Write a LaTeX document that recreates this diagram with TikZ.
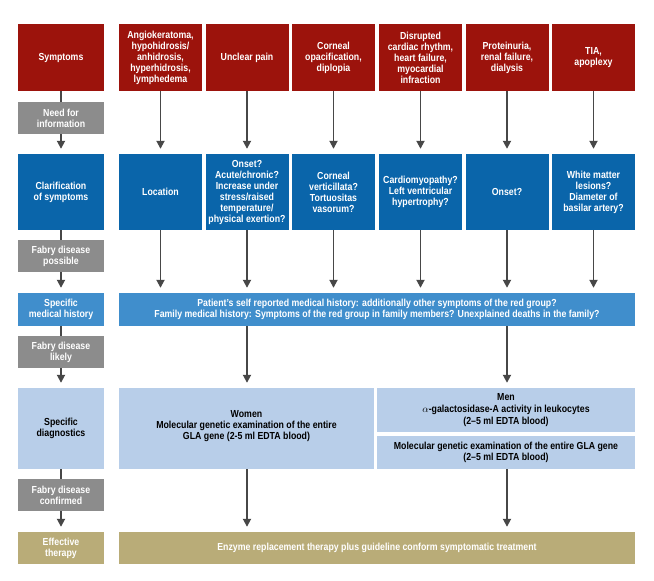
\documentclass[tikz,border=0pt]{standalone}
\usepackage{fontspec}
\setmainfont{Liberation Sans}[FakeStretch=0.86]
\usetikzlibrary{arrows.meta}
\definecolor{cred}{HTML}{9C130C}
\definecolor{cblue}{HTML}{0A65AA}
\definecolor{chist}{HTML}{408ECC}
\definecolor{clight}{HTML}{B8CEE9}
\definecolor{cgray}{HTML}{8C8C8C}
\definecolor{ckhaki}{HTML}{B9AC78}
\definecolor{carrow}{HTML}{474747}
\begin{document}
\begin{tikzpicture}[x=1pt,y=-1pt,
  box/.style={rectangle, inner sep=1pt, align=center, font=\fontsize{10.2}{11}\selectfont\bfseries, text=white},
  redbox/.style={box, fill=cred, minimum width=83pt, minimum height=67pt},
  bluebox/.style={box, fill=cblue, minimum width=83pt, minimum height=76pt},
  graybox/.style={box, fill=cgray, minimum width=86pt, minimum height=32pt},
  histbox/.style={box, fill=chist, minimum height=33pt},
  lightbox/.style={box, fill=clight, text=black},
  khakibox/.style={box, fill=ckhaki, minimum height=32pt},
  arr/.style={draw=carrow, line width=1.8pt, -{Triangle[width=8pt,length=8pt]}, shorten >=5pt},
  lin/.style={draw=carrow, line width=1.8pt}
]
\useasboundingbox (0,0) rectangle (654,581);
% left column
\node[redbox, minimum width=86pt] (sym) at (61,57.5) {Symptoms};
\node[graybox] (need) at (61,118) {Need for\\information};
\node[bluebox, minimum width=86pt] (clar) at (61,192) {Clarification\\of symptoms};
\node[graybox] (poss) at (61,256) {Fabry disease\\possible};
\node[histbox, minimum width=86pt] (hist) at (61,309.5) {Specific\\medical history};
\node[graybox] (likely) at (61,352) {Fabry disease\\likely};
\node[lightbox, minimum width=86pt, minimum height=81pt] (diag) at (61,428.5) {Specific\\diagnostics};
\node[graybox] (conf) at (61,495) {Fabry disease\\confirmed};
\node[khakibox, minimum width=86pt] (ther) at (61,548) {Effective\\therapy};
% red row
\node[redbox] (r1) at (160.5,57.5) {Angiokeratoma,\\hypohidrosis/\\anhidrosis,\\hyperhidrosis,\\lymphedema};
\node[redbox] (r2) at (247,57.5) {Unclear pain};
\node[redbox] (r3) at (333.5,57.5) {Corneal\\opacification,\\diplopia};
\node[redbox] (r4) at (420.5,57.5) {Disrupted\\cardiac rhythm,\\heart failure,\\myocardial\\infraction};
\node[redbox] (r5) at (507,57.5) {Proteinuria,\\renal failure,\\dialysis};
\node[redbox] (r6) at (593.5,57.5) {TIA,\\apoplexy};
% blue row
\node[bluebox] (b1) at (160.5,192) {Location};
\node[bluebox] (b2) at (247,192) {Onset?\\Acute/chronic?\\Increase under\\stress/raised\\temperature/\\physical exertion?};
\node[bluebox] (b3) at (333.5,192) {Corneal\\verticillata?\\Tortuositas\\vasorum?};
\node[bluebox] (b4) at (420.5,192) {Cardiomyopathy?\\Left ventricular\\hypertrophy?};
\node[bluebox] (b5) at (507,192) {Onset?};
\node[bluebox] (b6) at (593.5,192) {White matter\\lesions?\\Diameter of\\basilar artery?};
% wide boxes
\node[histbox, minimum width=516pt] (hw) at (377,309.5) {Patient's self reported medical history: additionally other symptoms of the red group?\\Family medical history: Symptoms of the red group in family members? Unexplained deaths in the family?};
\node[lightbox, minimum width=255pt, minimum height=81pt] (women) at (246.5,428.5) {Women\\Molecular genetic examination of the entire\\GLA gene (2-5 ml EDTA blood)\\[-3pt]};
\node[lightbox, minimum width=258pt, minimum height=44pt, font=\fontsize{10.2}{11.8}\selectfont\bfseries] (men) at (506,410) {Men\\$\alpha$-galactosidase-A activity in leukocytes\\(2–5 ml EDTA blood)};
\node[lightbox, minimum width=258pt, minimum height=33pt] (mol) at (506,452.5) {Molecular genetic examination of the entire GLA gene\\(2–5 ml EDTA blood)};
\node[khakibox, minimum width=516pt] (tw) at (377,548) {Enzyme replacement therapy plus guideline conform symptomatic treatment};
% left column connectors
\draw[lin] (sym.south) -- (need.north);
\draw[arr] (need.south) -- (clar.north);
\draw[lin] (clar.south) -- (poss.north);
\draw[arr] (poss.south) -- (hist.north);
\draw[lin] (hist.south) -- (likely.north);
\draw[arr] (likely.south) -- (diag.north);
\draw[lin] (diag.south) -- (conf.north);
\draw[arr] (conf.south) -- (ther.north);
% columns
\foreach \i in {1,...,6} {
  \draw[arr] (r\i.south) -- (b\i.north);
  \draw[arr] (b\i.south) -- (b\i.south |- hw.north);
}
\draw[arr] (b2.south |- hw.south) -- (b2.south |- women.north);
\draw[arr] (b5.south |- hw.south) -- (b5.south |- men.north);
\draw[arr] (b2.south |- women.south) -- (b2.south |- tw.north);
\draw[arr] (b5.south |- mol.south) -- (b5.south |- tw.north);
\end{tikzpicture}
\end{document}
